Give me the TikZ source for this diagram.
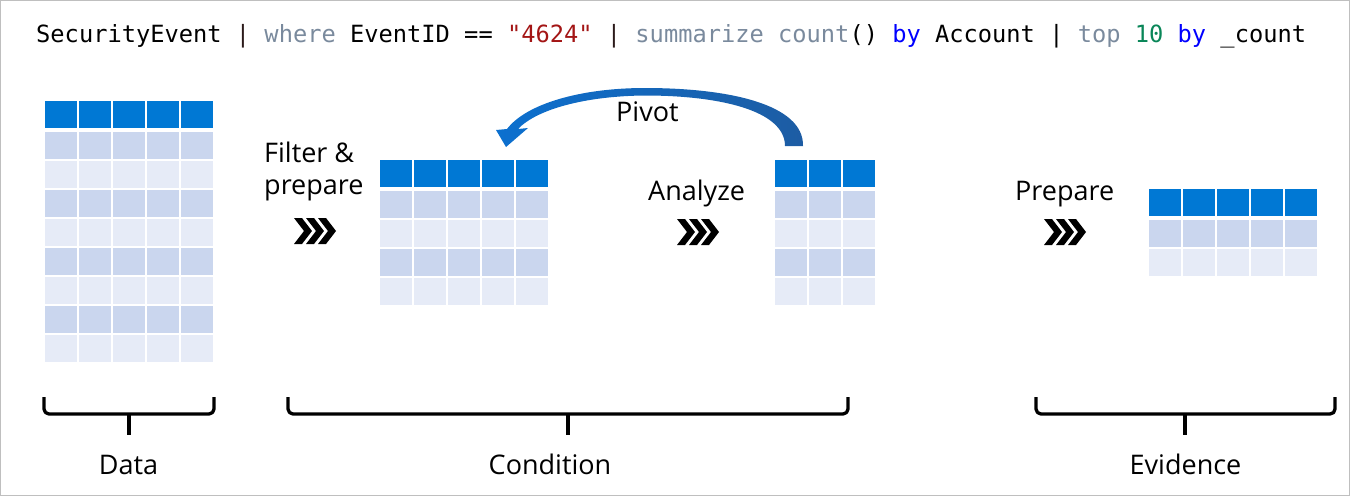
\documentclass[tikz,border=0pt]{standalone}
\usepackage{fontspec}
\setmainfont{Open Sans}
\setmonofont{DejaVu Sans Mono}
\definecolor{hdr}{HTML}{0078D4}
\definecolor{rowdark}{HTML}{CAD6EE}
\definecolor{rowlight}{HTML}{E6EBF7}
\definecolor{kw}{HTML}{7A8A9D}
\definecolor{strc}{HTML}{A31515}
\definecolor{kblue}{HTML}{0000FF}
\definecolor{numc}{HTML}{098658}
\definecolor{pipec}{HTML}{2B1A1A}
\definecolor{arrL}{HTML}{0C70CF}
\definecolor{arrR}{HTML}{1D5CA3}
\definecolor{framec}{HTML}{BFBFBF}

% #1 name, #2 x, #3 y, #4 columns, #5 body rows
\newcommand{\dtable}[5]{%
  \foreach \c in {1,...,#4}{%
    \fill[hdr] ({#2+(\c-1)*34+0.9},{#3+0.9}) rectangle ({#2+\c*34-0.9},{#3+27.5});
  }%
  \foreach \r in {1,...,#5}{%
    \pgfmathtruncatemacro{\rodd}{mod(\r,2)}%
    \ifnum\rodd=1 \def\rcol{rowdark}\else\def\rcol{rowlight}\fi
    \foreach \c in {1,...,#4}{%
      \fill[fill=\rcol] ({#2+(\c-1)*34+0.9},{#3+31+(\r-1)*29+0.9}) rectangle ({#2+\c*34-0.9},{#3+31+\r*29-0.9});
    }%
  }%
  \coordinate (#1-nw) at (#2,#3);
  \coordinate (#1-ne) at ({#2+#4*34},#3);
}
% chevrons: #1 left x, #2 centre y
\newcommand{\chevrons}[2]{%
  \foreach \k in {0,1,2}{%
    \fill[black] ({#1+12*\k},{#2-13}) -- ({#1+12*\k+8},{#2-13}) -- ({#1+12*\k+18},{#2}) -- ({#1+12*\k+8},{#2+13}) -- ({#1+12*\k},{#2+13}) -- ({#1+12*\k+10},{#2}) -- cycle;
  }%
}

\begin{document}
\begin{tikzpicture}[x=1pt,y=-1pt,
  lbl/.style={font=\fontsize{27}{33}\selectfont, inner sep=0pt},
  brace/.style={line width=3.3pt, rounded corners=5pt, line join=round}]
\useasboundingbox (0,0) rectangle (1351,496);
\draw[framec, line width=1.2pt] (0.6,0.6) rectangle (1349.6,495.4);

% query line
\node[anchor=base west, inner sep=0pt, font=\ttfamily\fontsize{23.7}{28}\selectfont] (query) at (36,42)
 {SecurityEvent \textcolor{pipec}{|} \textcolor{kw}{where} EventID == \textcolor{strc}{"4624"} \textcolor{pipec}{|} \textcolor{kw}{summarize} \textcolor{kw}{count}() \textcolor{kblue}{by} Account | \textcolor{kw}{top} \textcolor{numc}{10} \textcolor{kblue}{by} \_count};

% tables
\dtable{data}{44}{100}{5}{8}
\dtable{cond}{379}{159}{5}{4}
\dtable{anal}{774}{159}{3}{4}
\dtable{evid}{1148}{188}{5}{2}

% labels
\node[lbl, anchor=base west] (filter) at (264,162) {Filter \&};
\node[lbl, anchor=base west] (prep1) at (264,194) {prepare};
\node[lbl, anchor=base west] (analyze) at (648,200) {Analyze};
\node[lbl, anchor=base west] (pivot) at (616,121) {Pivot};
\node[lbl, anchor=base west] (prep2) at (1015,200) {Prepare};

% chevrons
\chevrons{294}{231}
\chevrons{677}{232}
\chevrons{1044}{232}

% pivot arrow
\shade[left color=arrL, right color=arrR]
  (803,146) .. controls (804,104) and (728,88) .. (645,88)
  .. controls (580,88) and (526,104) .. (507,129)
  -- (496,130) -- (506,147) -- (528,128) -- (518,129)
  .. controls (537,109) and (586,96) .. (645,95.5)
  .. controls (718,95.5) and (785,110) .. (785,146) -- cycle;

% braces
\coordinate (b1l) at (44,397); \coordinate (b1r) at (214,397);
\coordinate (b2l) at (288,397); \coordinate (b2r) at (848,397);
\coordinate (b3l) at (1036,397); \coordinate (b3r) at (1335,397);
\draw[brace] (b1l) -- ++(0,17) -| (b1r);
\draw[brace] (b2l) -- ++(0,17) -| (b2r);
\draw[brace] (b3l) -- ++(0,17) -| (b3r);
\draw[line width=3.6pt] (129,414) -- (129,435);
\draw[line width=3.6pt] (568,414) -- (568,435);
\draw[line width=3.6pt] (1185,414) -- (1185,435);

\node[lbl, anchor=base] (datal) at (128.5,474) {Data};
\node[lbl, anchor=base] (condl) at (550,474) {Condition};
\node[lbl, anchor=base] (evidl) at (1185.5,474) {Evidence};
\end{tikzpicture}
\end{document}
